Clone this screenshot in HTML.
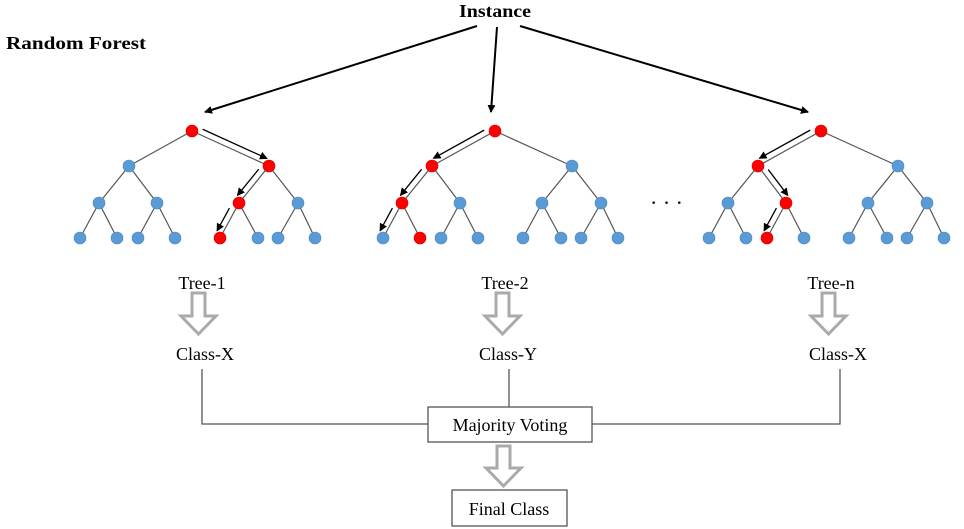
<!DOCTYPE html>
<html><head><meta charset="utf-8"><style>html,body{margin:0;padding:0;background:#fff}svg{display:block}</style></head>
<body>
<svg width="964" height="529" viewBox="0 0 964 529" xmlns="http://www.w3.org/2000/svg" font-family="Liberation Serif, serif">
<defs>
<marker id="ah" markerWidth="8" markerHeight="8" refX="7" refY="4" orient="auto" markerUnits="userSpaceOnUse"><path d="M0,0 L8,4 L0,8 Z" fill="#000"/></marker>
</defs>
<text x="459" y="17" font-size="18" font-weight="bold" textLength="72" lengthAdjust="spacingAndGlyphs">Instance</text>
<text x="6" y="49" font-size="18" font-weight="bold" textLength="140" lengthAdjust="spacingAndGlyphs">Random Forest</text>
<g stroke="#000" stroke-width="2" marker-end="url(#ah)">
<line x1="477" y1="26" x2="205" y2="112"/>
<line x1="497" y1="27" x2="491" y2="112"/>
<line x1="520" y1="26" x2="808" y2="112"/>
</g>
<g id="trees"></g>
<text x="650" y="210" font-size="22">· · ·</text>
<g font-size="18" text-anchor="middle">
<text x="202" y="289">Tree-1</text><text x="505" y="289">Tree-2</text><text x="831" y="289">Tree-n</text>
<text x="205" y="360">Class-X</text><text x="508" y="360">Class-Y</text><text x="838" y="360">Class-X</text>
</g>
<g fill="#fff" stroke="#aaa" stroke-width="3">
<path d="M192,293 H205 V316 H216 L198.5,334 L181,316 H192 Z"/>
<path d="M496,293 H509 V316 H520 L502.5,334 L485,316 H496 Z"/>
<path d="M822,293 H835 V316 H846 L828.5,334 L811,316 H822 Z"/>
<path d="M497,446 H510 V468 H521 L503.5,486 L486,468 H497 Z"/>
</g>
<g stroke="#555" stroke-width="1.3" fill="none">
<polyline points="202,369 202,424 428,424"/>
<line x1="509" y1="369" x2="509" y2="407"/>
<polyline points="840,369 840,424 592,424"/>
<rect x="428" y="407" width="164" height="35" fill="#fff"/>
<rect x="452" y="490" width="115" height="36" fill="#fff"/>
</g>
<text x="510" y="431" font-size="18" text-anchor="middle">Majority Voting</text>
<text x="509" y="515" font-size="18" text-anchor="middle">Final Class</text>
</svg>
<script>
(function(){
var g=document.getElementById('trees');var ns='http://www.w3.org/2000/svg';
var roots=[192,495,821];
var L1=[-63,77],L2=[-93,-35,47,106],L3=[-112,-75,-54,-17,28,66,86,123];
var ys=[131,166,203,238];
var reds=[[1,2,4],[0,0,1],[0,1,2]];
var arr=[[1,2,4],[0,0,0],[0,1,2]];
function el(n,a){var e=document.createElementNS(ns,n);for(var k in a)e.setAttribute(k,a[k]);g.appendChild(e);return e;}
roots.forEach(function(r,t){
 var lv=[[r],L1.map(function(d){return r+d}),L2.map(function(d){return r+d}),L3.map(function(d){return r+d})];
 for(var l=0;l<3;l++)for(var i=0;i<lv[l].length;i++)for(var c=0;c<2;c++)
  el('line',{x1:lv[l][i],y1:ys[l],x2:lv[l+1][i*2+c],y2:ys[l+1],stroke:'#555','stroke-width':1.2});
 var path=[0].concat(reds[t]);var ap=[0].concat(arr[t]);
 for(var l=0;l<3;l++){
  var x1=lv[l][ap[l]],y1=ys[l],x2=lv[l+1][ap[l+1]],y2=ys[l+1];
  var dx=x2-x1,dy=y2-y1,len=Math.sqrt(dx*dx+dy*dy),ux=dx/len,uy=dy/len;
  var nx=-uy,ny=ux; if(ny>0){nx=-nx;ny=-ny;}
  var o=6;
  el('line',{x1:x1+nx*o+ux*9,y1:y1+ny*o+uy*9,x2:x2+nx*o-ux*5,y2:y2+ny*o-uy*5,stroke:'#000','stroke-width':1.3,'marker-end':'url(#ah)'});
 }
 for(var l=0;l<4;l++)for(var i=0;i<lv[l].length;i++){
  var red=(i===path[l]);
  el('circle',{cx:lv[l][i],cy:ys[l],r:6,fill:red?'#f00':'#5b9bd5',stroke:red?'#c00':'#4a86c0','stroke-width':0.6});
 }
});
})();
</script>
</body></html>
